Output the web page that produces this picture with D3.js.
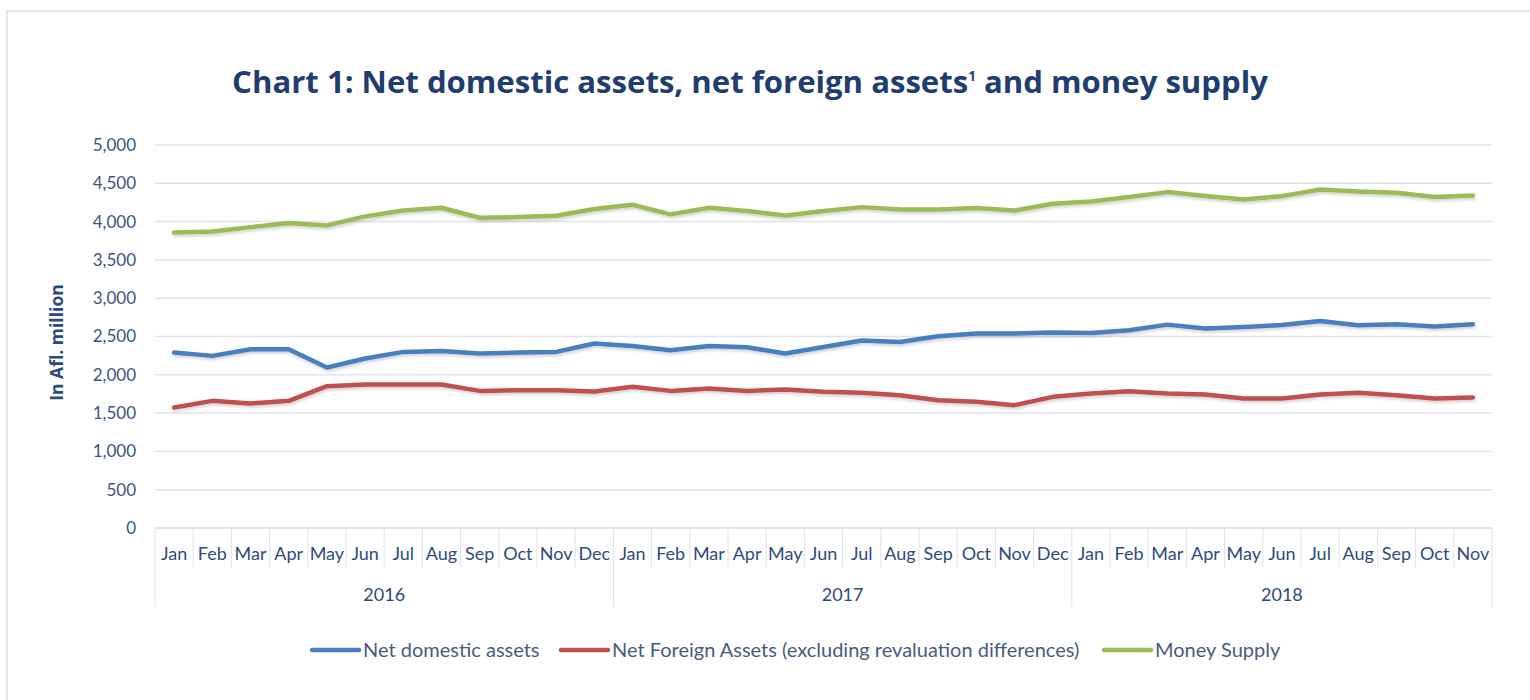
<!DOCTYPE html>
<html>
  <head>
    <meta charset="utf-8">
    <title>Chart 1</title>
    <script src="https://d3js.org/d3.v7.min.js"></script>
    <style>
      body { margin: 0; background: #fff; }
      svg { display: block; }
    </style>
  </head>
  <body>
    <svg width="1530" height="700"></svg>

    <script type="text/javascript">
      // data (Afl. million)
      var months = ["Jan","Feb","Mar","Apr","May","Jun","Jul","Aug","Sep","Oct","Nov","Dec"];
      var years = ["2016", "2017", "2018"];
      var monthsPerYear = [12, 12, 11];

      var netDomestic = [2290, 2247, 2334, 2334, 2095, 2212, 2299, 2312, 2277, 2290, 2299, 2408,
                         2377, 2321, 2377, 2360, 2277, 2364, 2447, 2429, 2503, 2538, 2538, 2551,
                         2546, 2581, 2655, 2603, 2625, 2650, 2703, 2647, 2660, 2629, 2660];
      var netForeign = [1573, 1660, 1625, 1660, 1851, 1873, 1873, 1873, 1790, 1799, 1799, 1782,
                        1843, 1790, 1821, 1790, 1808, 1778, 1765, 1734, 1669, 1647, 1604, 1712,
                        1756, 1786, 1756, 1743, 1691, 1691, 1743, 1765, 1734, 1691, 1704];
      var moneySupply = [3859, 3872, 3928, 3981, 3950, 4068, 4146, 4181, 4050, 4059, 4077, 4164,
                         4220, 4094, 4181, 4137, 4081, 4137, 4189, 4159, 4159, 4176, 4146, 4233,
                         4263, 4320, 4385, 4333, 4289, 4333, 4420, 4394, 4377, 4320, 4342];
      var yTicks = [0, 500, 1000, 1500, 2000, 2500, 3000, 3500, 4000, 4500, 5000];

      var seriesNames = ["Net domestic assets",
                         "Net Foreign Assets (excluding revaluation differences)",
                         "Money Supply"];
      var seriesColors = ["#4a7ebf", "#c0504d", "#9bbb59"];

      // build the category list (one entry per month)
      var cats = [];
      years.forEach(function(y, yi){
        for (var m = 0; m < monthsPerYear[yi]; m++) cats.push({key: y + "-" + m, month: months[m], year: y});
      });
      var series = [netDomestic, netForeign, moneySupply];

      var margin = {top: 145, left: 155, right: 38, bottom: 172};
      var width = 1530 - margin.left - margin.right;
      var height = 700 - margin.top - margin.bottom;

      var xScale = d3.scaleBand().domain(cats.map(d => d.key)).range([0, width]).padding(0);
      var yScale = d3.scaleLinear().domain([0, 5000]).range([height, 0]);

      var svg = d3.select("svg");

      // faint frame
      svg.append("path")
         .attr("d", "M7,700 L7,11 L1530,11")
         .attr("fill", "none")
         .attr("stroke", "#dde6f0")
         .attr("stroke-width", 2);

      // title
      var title = svg.append("text")
         .attr("x", 750)
         .attr("y", 93)
         .attr("text-anchor", "middle")
         .attr("fill", "#1f3d6e")
         .style("font-family", "'Open Sans', sans-serif")
         .style("font-weight", "bold")
         .style("font-size", "30px");
      title.append("tspan").text("Chart 1: Net domestic assets, net foreign assets");
      title.append("tspan").attr("dy", -12).style("font-size", "13px").text("1");
      title.append("tspan").attr("dy", 12).text(" and money supply");
      var tw = title.node().getComputedTextLength();
      title.style("font-size", (30 * 1036 / tw) + "px");
      title.selectAll("tspan").filter((d, i) => i == 1).style("font-size", (13 * 1036 / tw) + "px");

      var g = svg.append("g")
         .attr("transform", "translate(" + margin.left + "," + margin.top + ")");

      // gridlines + y labels
      g.selectAll(".grid")
       .data(yTicks.filter(d => d > 0))
       .enter()
       .append("line")
       .attr("x1", 0).attr("x2", width)
       .attr("y1", d => yScale(d)).attr("y2", d => yScale(d))
       .attr("stroke", "#e1e4ec")
       .attr("stroke-width", 1.5);

      var yAxis = d3.axisLeft(yScale).tickValues(yTicks).tickFormat(d3.format(",")).tickSize(0).tickPadding(19);
      var yAxisGroup = g.append("g").call(yAxis);
      yAxisGroup.select(".domain").remove();
      yAxisGroup.selectAll("text")
        .attr("fill", "#3b5482")
        .style("font-family", "Lato, sans-serif")
        .style("font-size", "17px");

      g.append("text")
       .attr("transform", "translate(-92," + (height / 2 + 6) + ") rotate(-90)")
       .attr("text-anchor", "middle")
       .attr("fill", "#2c4a7c")
       .style("font-family", "'Open Sans', sans-serif")
       .style("font-weight", "bold")
       .style("font-size", "17.5px")
       .text("In Afl. million");

      // category axis: baseline, month dividers, year dividers
      g.append("line")
       .attr("x1", 0).attr("x2", width)
       .attr("y1", height).attr("y2", height)
       .attr("stroke", "#d9dce4").attr("stroke-width", 1.5);

      g.selectAll(".mtick")
       .data(cats)
       .enter()
       .append("line")
       .attr("x1", d => xScale(d.key)).attr("x2", d => xScale(d.key))
       .attr("y1", height).attr("y2", d => (d.month == "Jan" ? height + 79 : height + 39))
       .attr("stroke", "#dfe2ea").attr("stroke-width", 1);

      g.append("line")
       .attr("x1", width).attr("x2", width)
       .attr("y1", height).attr("y2", height + 79)
       .attr("stroke", "#dfe2ea").attr("stroke-width", 1);

      g.selectAll(".mlabel")
       .data(cats)
       .enter()
       .append("text")
       .attr("x", d => xScale(d.key) + xScale.bandwidth() / 2)
       .attr("y", height + 32)
       .attr("text-anchor", "middle")
       .attr("fill", "#2f4b7c")
       .style("font-family", "Lato, sans-serif")
       .style("font-size", "18px")
       .text(d => d.month);

      g.selectAll(".ylabel")
       .data(years)
       .enter()
       .append("text")
       .attr("x", function(y, i){
         var first = cats.findIndex(c => c.year == y);
         var x0 = xScale(cats[first].key);
         var x1 = i < years.length - 1 ? xScale(cats[first + monthsPerYear[i]].key) : width;
         return (x0 + x1) / 2;
       })
       .attr("y", height + 73)
       .attr("text-anchor", "middle")
       .attr("fill", "#2f4b7c")
       .style("font-family", "Lato, sans-serif")
       .style("font-size", "18px")
       .text(d => d);

      // lines
      var defs = svg.append("defs");
      var f = defs.append("filter").attr("id", "shadow").attr("x", "-5%").attr("y", "-50%").attr("width", "110%").attr("height", "200%");
      f.append("feDropShadow").attr("dx", 1).attr("dy", 2).attr("stdDeviation", 1.5).attr("flood-color", "#000").attr("flood-opacity", 0.18);

      var line = d3.line()
        .x((d, i) => xScale(cats[i].key) + xScale.bandwidth() / 2)
        .y(d => yScale(d));

      g.selectAll(".series")
       .data(series)
       .enter()
       .append("path")
       .attr("d", d => line(d))
       .attr("fill", "none")
       .attr("stroke", (d, i) => seriesColors[i])
       .attr("stroke-width", 4.5)
       .attr("stroke-linejoin", "round")
       .attr("stroke-linecap", "round")
       .attr("filter", "url(#shadow)");

      // legend
      var legendX = [312, 561, 1104];
      var legend = svg.selectAll(".legend")
        .data(seriesNames)
        .enter()
        .append("g")
        .attr("transform", (d, i) => "translate(" + legendX[i] + ",650)");
      legend.append("line")
        .attr("x1", 0).attr("x2", 47)
        .attr("y1", 0).attr("y2", 0)
        .attr("stroke", (d, i) => seriesColors[i])
        .attr("stroke-width", 4.5)
        .attr("stroke-linecap", "round");
      legend.append("text")
        .attr("x", 51)
        .attr("y", 7)
        .attr("fill", "#4a5b7e")
        .style("font-family", "Lato, sans-serif")
        .style("font-size", "20px")
        .text(d => d);
    </script>
  </body>
</html>
